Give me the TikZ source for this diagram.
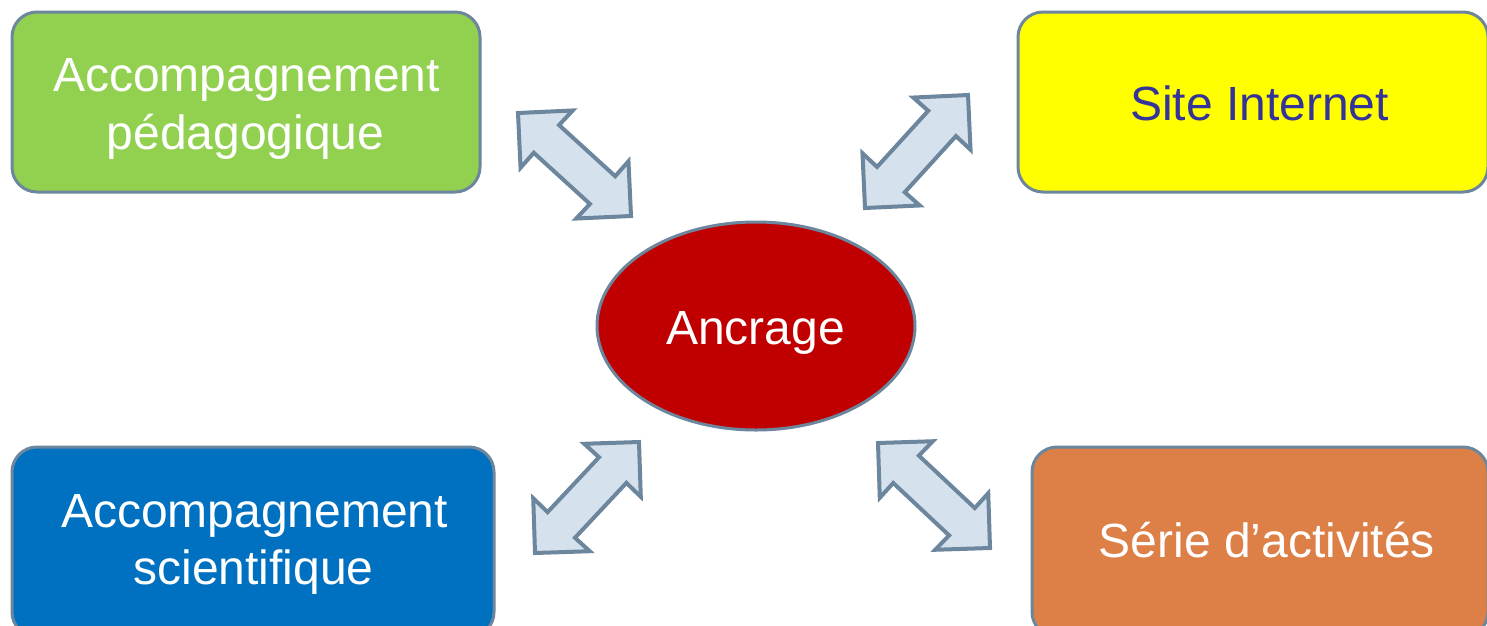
\documentclass[tikz,border=0pt]{standalone}
\usepackage{fontspec}
\setmainfont{Liberation Sans}
\usetikzlibrary{shapes.geometric,calc}
\definecolor{bordc}{RGB}{108,134,157}
\definecolor{arrfill}{RGB}{213,225,236}
\definecolor{greenf}{RGB}{146,208,80}
\definecolor{yellowf}{RGB}{255,255,0}
\definecolor{bluef}{RGB}{0,112,192}
\definecolor{orangef}{RGB}{221,128,71}
\definecolor{redf}{RGB}{192,0,0}
\definecolor{navytext}{RGB}{51,51,153}
\newcommand\diagfont{\fontsize{48}{57.6}\selectfont}
\newcommand\dblarrow[2]{%
  \draw[dbl] (#1) -- ($(#1)!54.8pt!45:(#2)$) -- ($(#1)!42.8pt!26:(#2)$)
    -- ($(#2)!42.8pt!-26:(#1)$) -- ($(#2)!54.8pt!-45:(#1)$) -- (#2)
    -- ($(#2)!54.8pt!45:(#1)$) -- ($(#2)!42.8pt!26:(#1)$)
    -- ($(#1)!42.8pt!-26:(#2)$) -- ($(#1)!54.8pt!-45:(#2)$) -- cycle;}
\begin{document}
\begin{tikzpicture}[x=1pt,y=-1pt,
  box/.style={draw=bordc,line width=3pt,rounded corners=25pt,inner sep=0pt},
  txt/.style={font=\diagfont,text=white,inner sep=0pt,anchor=base},
  dbl/.style={draw=bordc,fill=arrfill,line width=4pt}]
\useasboundingbox (0,0) rectangle (1487,625);
\clip (0,0) rectangle (1487,625);
% boxes
\node[box,fill=greenf,minimum width=468pt,minimum height=180pt] (ped) at (246,102) {};
\node[box,fill=yellowf,minimum width=470pt,minimum height=180pt] (site) at (1253,102) {};
\node[box,fill=bluef,minimum width=482pt,minimum height=190pt] (sci) at (253,542) {};
\node[box,fill=orangef,minimum width=456pt,minimum height=190pt] (serie) at (1260,542) {};
\node[ellipse,draw=bordc,line width=3pt,fill=redf,
  minimum width=318pt,minimum height=208pt,inner sep=0pt] (anc) at (756,326) {};
% texts
\node[txt] (ped1) at (246.5,91) {Accompagnement};
\node[txt] (ped2) at (245.5,149) {pédagogique};
\node[txt,text=navytext] (site1) at (1259.5,120) {Site Internet};
\node[txt] (sci1) at (254.5,527) {Accompagnement};
\node[txt] (sci2) at (253.5,584) {scientifique};
\node[txt] (serie1) at (1267,557) {Série d’activités};
\node[txt] (anc1) at (755.5,344) {Ancrage};
% double arrows
\coordinate (a1s) at (518,113); \coordinate (a1e) at (631,216);
\coordinate (a2s) at (865,208); \coordinate (a2e) at (968,95);
\coordinate (a3s) at (535,553); \coordinate (a3e) at (639,442);
\coordinate (a4s) at (878,443); \coordinate (a4e) at (990,548);
\dblarrow{a1s}{a1e}
\dblarrow{a2s}{a2e}
\dblarrow{a3s}{a3e}
\dblarrow{a4s}{a4e}
\end{tikzpicture}
\end{document}
